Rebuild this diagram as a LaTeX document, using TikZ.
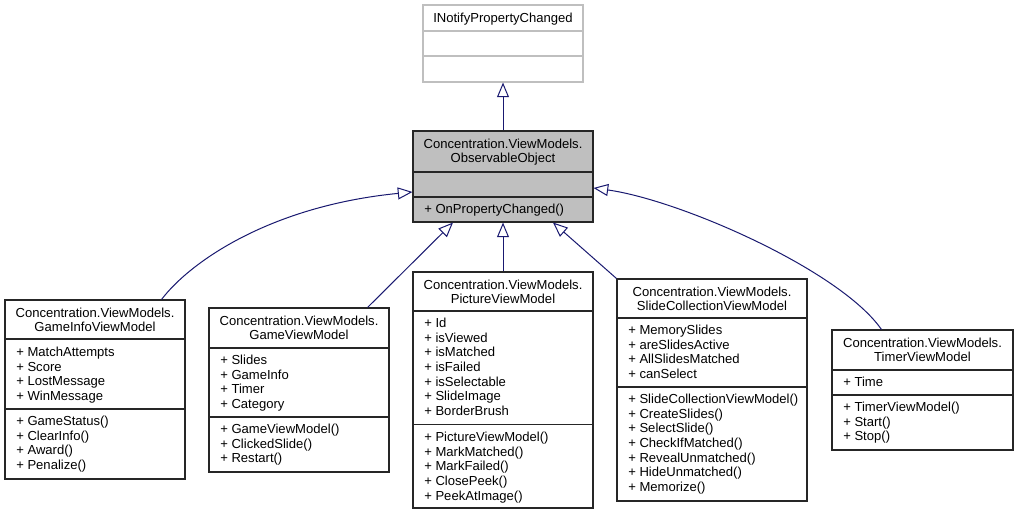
\documentclass[tikz,border=0pt]{standalone}
\usepackage{fontspec}
\setmainfont{Liberation Sans}
\usetikzlibrary{arrows.meta,fit}
\definecolor{edgeblue}{HTML}{191970}
\definecolor{basegray}{HTML}{BFBFBF}
\tikzset{ % common looks of the class diagram
	classbox/.style={draw=black!85, line width=0.8pt, inner sep=0pt, fill=white},
	basebox/.style={classbox, fill=basegray},
	extbox/.style={classbox, draw=basegray},
	divider/.style={draw=black!85, line width=0.8pt},
	classname/.style={anchor=north, inner sep=0pt, align=center, font=\fontsize{9.8}{10}\selectfont},
	members/.style={anchor=north west, inner sep=0pt, align=left, font=\fontsize{9.8}{10.95}\selectfont},
	inherit/.style={draw=edgeblue, line width=0.75pt, -{Triangle[open,length=11pt,width=9pt]}}
}
\begin{document}
\begin{tikzpicture}[x=0.75pt,y=-0.75pt]
		% Canvas
		\useasboundingbox[fill=white] (0,0) rectangle (1017,515);
		% Draw class boxes
		\node[extbox, fit={(423,5) (583,82)}] (inotify) {};
		\node[basebox, fit={(413,131) (593,222)}] (observable) {};
		\node[classbox, fit={(5,300) (185,479)}] (gameinfo) {};
		\node[classbox, fit={(209,308) (389,472)}] (gameview) {};
		\node[classbox, fit={(413,272) (593,508)}] (picture) {};
		\node[classbox, fit={(617,279) (807,501)}] (slide) {};
		\node[classbox, fit={(832,330) (1013,450)}] (timer) {};
		% Draw dividers
		\draw[divider, draw=basegray] (423,31) -- (583,31);
		\draw[divider, draw=basegray] (423,56) -- (583,56);
		\draw[divider] (413,172) -- (593,172);
		\draw[divider] (413,197) -- (593,197);
		\draw[divider] (5,339) -- (185,339);
		\draw[divider] (5,409) -- (185,409);
		\draw[divider] (209,348) -- (389,348);
		\draw[divider] (209,417) -- (389,417);
		\draw[divider] (413,311) -- (593,311);
		\draw[divider] (413,424.5) -- (593,424.5);
		\draw[divider] (617,318) -- (807,318);
		\draw[divider] (617,387) -- (807,387);
		\draw[divider] (832,370) -- (1013,370);
		\draw[divider] (832,395) -- (1013,395);
		% Class names
		\node[classname] (inotifyT) at (503,12.5) {INotifyPropertyChanged};
		\node[classname] (observableT) at (503,139.2) {Concentration.ViewModels.\\ObservableObject};
		\node[classname] (gameinfoT) at (95,308.2) {Concentration.ViewModels.\\GameInfoViewModel};
		\node[classname] (gameviewT) at (299,316.2) {Concentration.ViewModels.\\GameViewModel};
		\node[classname] (pictureT) at (503,280.2) {Concentration.ViewModels.\\PictureViewModel};
		\node[classname] (slideT) at (712,287.2) {Concentration.ViewModels.\\SlideCollectionViewModel};
		\node[classname] (timerT) at (922.5,338.2) {Concentration.ViewModels.\\TimerViewModel};
		% Attributes and methods
		\node[members] (observableM) at (424,204) {+ OnPropertyChanged()};
		\node[members] (gameinfoA) at (16,347) {+ MatchAttempts\\+ Score\\+ LostMessage\\+ WinMessage};
		\node[members] (gameinfoM) at (16,416) {+ GameStatus()\\+ ClearInfo()\\+ Award()\\+ Penalize()};
		\node[members] (gameviewA) at (220,355) {+ Slides\\+ GameInfo\\+ Timer\\+ Category};
		\node[members] (gameviewM) at (220,424) {+ GameViewModel()\\+ ClickedSlide()\\+ Restart()};
		\node[members] (pictureA) at (424,318) {+ Id\\+ isViewed\\+ isMatched\\+ isFailed\\+ isSelectable\\+ SlideImage\\+ BorderBrush};
		\node[members] (pictureM) at (424,432) {+ PictureViewModel()\\+ MarkMatched()\\+ MarkFailed()\\+ ClosePeek()\\+ PeekAtImage()};
		\node[members] (slideA) at (628,325) {+ MemorySlides\\+ areSlidesActive\\+ AllSlidesMatched\\+ canSelect};
		\node[members] (slideM) at (628,394) {+ SlideCollectionViewModel()\\+ CreateSlides()\\+ SelectSlide()\\+ CheckIfMatched()\\+ RevealUnmatched()\\+ HideUnmatched()\\+ Memorize()};
		\node[members] (timerA) at (843,377) {+ Time};
		\node[members] (timerM) at (843,402) {+ TimerViewModel()\\+ Start()\\+ Stop()};
		% Draw inheritance arrows
		\draw[inherit] (observable.north) -- (inotify.south);
		\draw[inherit] ([xshift=-18pt]gameinfo.north east) .. controls (190,262) and (270,206) .. ([yshift=-11.6pt]observable.west);
		\draw[inherit] ([xshift=-16.5pt]gameview.north east) -- ([xshift=-37.5pt]observable.south);
		\draw[inherit] (picture.north) -- (observable.south);
		\draw[inherit] (slide.north west) -- ([xshift=37.5pt]observable.south);
		\draw[inherit] ([xshift=37.5pt]timer.north west) .. controls (840,270) and (680,200) .. ([yshift=-8.6pt]observable.east);
\end{tikzpicture}
\end{document}
